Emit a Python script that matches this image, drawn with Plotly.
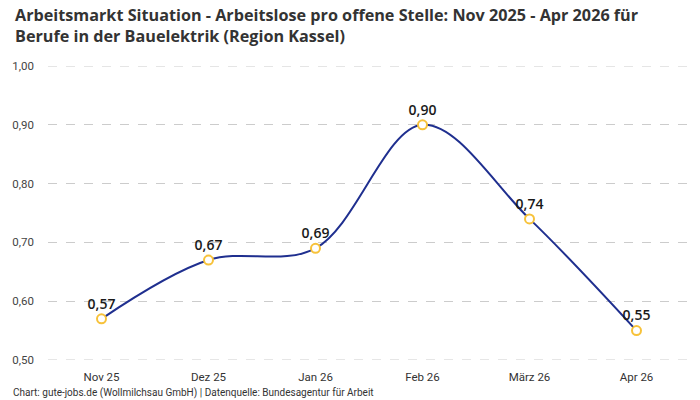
import plotly.graph_objects as go

categories = ["Nov 25", "Dez 25", "Jan 26", "Feb 26", "März 26", "Apr 26"]
values = [0.57, 0.67, 0.69, 0.90, 0.74, 0.55]
y_ticks = [0.5, 0.6, 0.7, 0.8, 0.9, 1.0]

fig = go.Figure()
fig.add_trace(go.Scatter(
    x=categories, y=values,
    mode="lines+markers+text",
    line=dict(color="#1f2f8f", width=2, shape="spline", smoothing=1.0),
    marker=dict(size=9, color="white", line=dict(color="#f7c23a", width=2)),
    text=[f"{v:.2f}".replace(".", ",") for v in values],
    textposition="top center",
    textfont=dict(family="Open Sans", size=14, color="#1a1a1a", weight=600),
    cliponaxis=False,
    hoverinfo="skip",
))

for yv in (y_ticks[0], y_ticks[-1]):
    fig.add_shape(type="line", xref="paper", yref="y", x0=0, x1=1,
                  y0=yv, y1=yv,
                  line=dict(color="#cccccc", width=1, dash="dash"), layer="below")

fig.update_layout(
    width=700, height=400,
    margin=dict(l=48, r=10, t=66, b=40),
    paper_bgcolor="white", plot_bgcolor="white",
    separators=",.",
    showlegend=False,
    font=dict(family="Roboto", color="#333333"),
    xaxis=dict(
        range=[-0.5, 5.5], showgrid=False, zeroline=False, showline=False,
        ticks="", ticklabelstandoff=8, tickfont=dict(size=11.5, color="#333333"),
    ),
    yaxis=dict(
        range=[0.5, 1.0], tickvals=y_ticks, tickformat=".2f",
        showgrid=True, gridcolor="#cccccc", griddash="dash", gridwidth=1,
        zeroline=False, showline=False, ticks="", ticklabelstandoff=13,
        tickfont=dict(size=11.5, color="#444444"),
    ),
    annotations=[
        dict(
            text="<b>Arbeitsmarkt Situation - Arbeitslose pro offene Stelle: Nov 2025 - Apr 2026 für<br>Berufe in der Bauelektrik (Region Kassel)</b>",
            xref="paper", yref="paper", x=-0.0545, y=1.216, xanchor="left", yanchor="top",
            align="left", showarrow=False,
            font=dict(family="Open Sans", size=16.2, color="#333333"),
        ),
        dict(
            text="Chart: gute-jobs.de (Wollmilchsau GmbH) | Datenquelle: Bundesagentur für Arbeit",
            xref="paper", yref="paper", x=-0.0575, y=-0.085, xanchor="left", yanchor="top",
            showarrow=False, font=dict(size=10, color="#333333"),
        ),
    ],
)

fig.write_html("out.html")
